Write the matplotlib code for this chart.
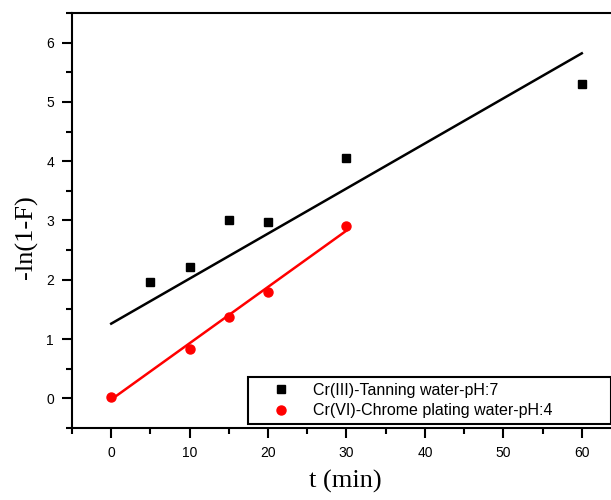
import matplotlib
matplotlib.use('Agg')
import matplotlib.pyplot as plt
from matplotlib.ticker import MultipleLocator
import numpy as np

# Cr(III) tanning water, pH 7
t_cr3 = [5, 10, 15, 20, 30, 60]
y_cr3 = [1.97, 2.21, 3.00, 2.97, 4.06, 5.31]
fit_cr3 = (0.076, 1.26)     # slope, intercept
fit_cr3_range = (0, 60)

# Cr(VI) chrome plating water, pH 4
t_cr6 = [0, 10, 15, 20, 30]
y_cr6 = [0.02, 0.83, 1.37, 1.79, 2.90]
fit_cr6 = (0.095, -0.02)
fit_cr6_range = (0, 30)

labels = ['Cr(III)-Tanning water-pH:7', 'Cr(VI)-Chrome plating water-pH:4']

fig = plt.figure(figsize=(6.11, 5.0), dpi=100)
ax = fig.add_axes([72 / 611, 1 - 428 / 500, 549 / 611, 415 / 500])

# fitted lines
for (m, b), (x0, x1), c in [(fit_cr3, fit_cr3_range, 'black'), (fit_cr6, fit_cr6_range, 'red')]:
    xs = np.array([x0, x1])
    ax.plot(xs, m * xs + b, color=c, lw=1.8, zorder=2)

ax.plot(t_cr3, y_cr3, 's', color='black', ms=5.5, ls='none', label=labels[0], zorder=3)
ax.plot(t_cr6, y_cr6, 'o', color='red', ms=6.5, ls='none', label=labels[1], zorder=3)

ax.set_xlim(-5, 65)
ax.set_ylim(-0.5, 6.5)
ax.xaxis.set_major_locator(MultipleLocator(10))
ax.xaxis.set_minor_locator(MultipleLocator(5))
ax.yaxis.set_major_locator(MultipleLocator(1))
ax.yaxis.set_minor_locator(MultipleLocator(0.5))

ax.tick_params(which='both', direction='out', width=1.5, labelsize=10, top=False, right=False)
ax.tick_params(which='major', length=7, pad=6)
ax.tick_params(which='minor', length=4)
for s in ax.spines.values():
    s.set_linewidth(1.5)
ax.spines['right'].set_visible(False)

ax.set_xlabel('t (min)', family='Liberation Serif', fontsize=19)
ax.set_ylabel('-ln(1-F)', family='Liberation Serif', fontsize=19)
ax.xaxis.set_label_coords(0.497, -0.10)
ax.yaxis.set_label_coords(-0.062, 0.46)

for lab in ax.get_xticklabels() + ax.get_yticklabels():
    lab.set_family('Liberation Sans')

leg = ax.legend(loc='lower left', bbox_to_anchor=(0.3206, 0.0096, 0.661, 0.125),
                mode='expand', borderaxespad=0, fancybox=False, framealpha=1,
                edgecolor='black', prop={'family': 'Liberation Sans', 'size': 11.5},
                handlelength=3.4, handletextpad=0.3, borderpad=0.35, labelspacing=0.35)
leg.get_frame().set_linewidth(1.5)

plt.savefig('out.png', dpi=100)
